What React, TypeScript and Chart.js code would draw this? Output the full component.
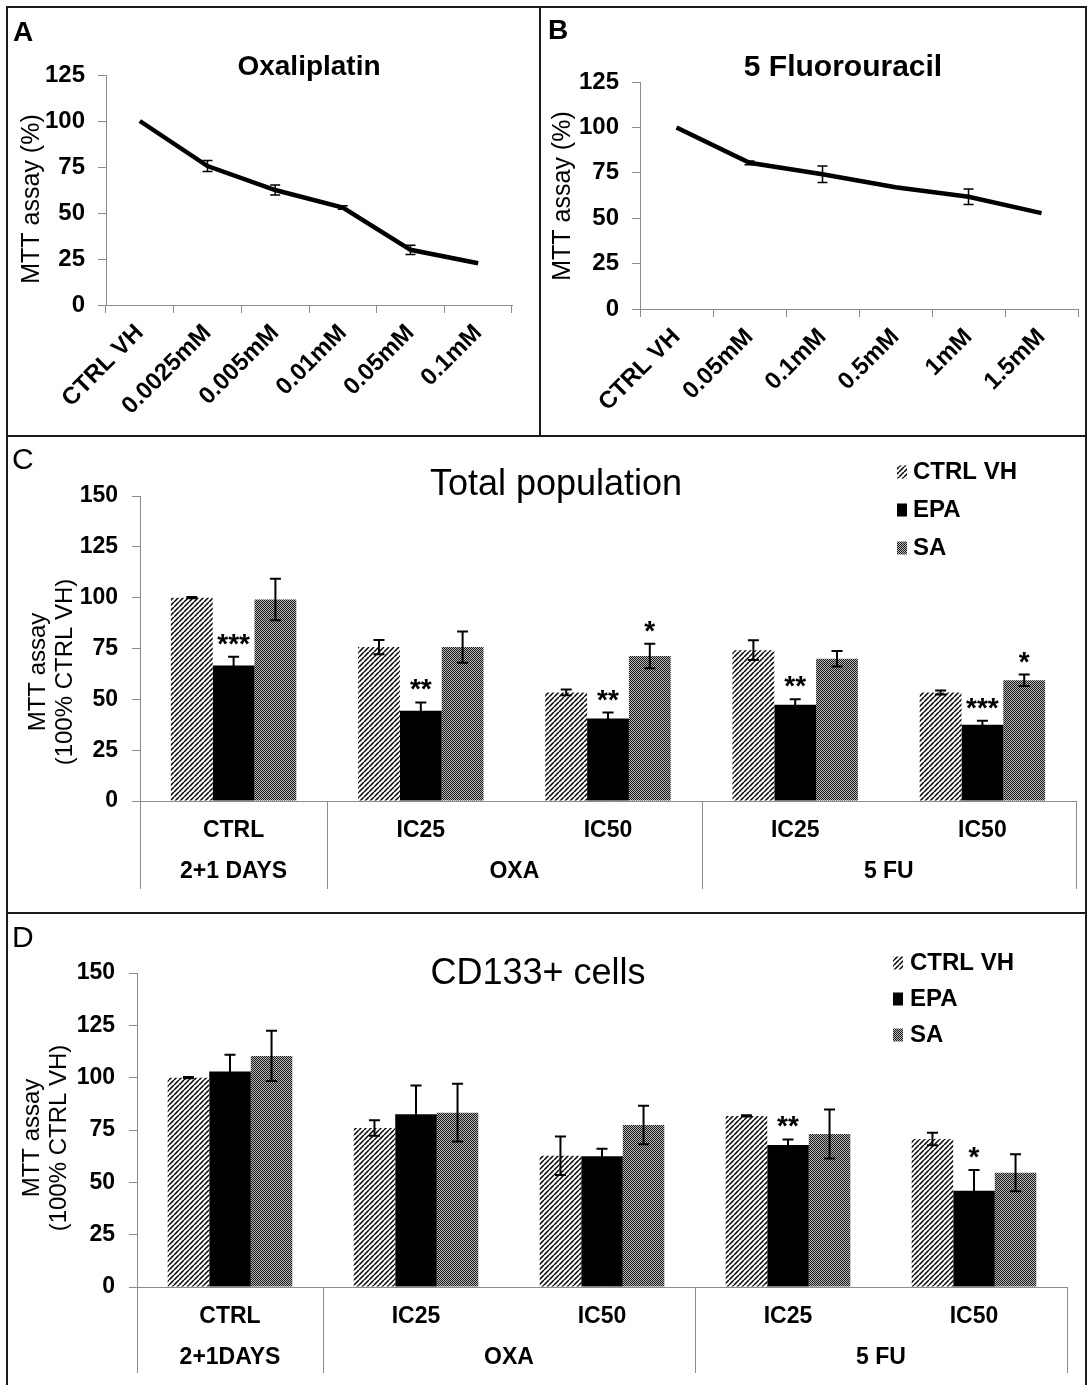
import React, { useEffect, useRef } from "react";
import { Chart, registerables } from "chart.js";

Chart.register(...registerables);

const FONT = "'Liberation Sans', Arial, Helvetica, sans-serif";

// ---------- Panel A: Oxaliplatin ----------
const oxaLabels = ["CTRL VH", "0.0025mM", "0.005mM", "0.01mM", "0.05mM", "0.1mM"];
const oxaValues = [100, 75.5, 62.5, 53, 30, 22.7];
const oxaErrors = [0, 3, 2.7, 1, 2.5, 0];

// ---------- Panel B: 5 Fluorouracil ----------
const fuLabels = ["CTRL VH", "0.05mM", "0.1mM", "0.5mM", "1mM", "1.5mM"];
const fuValues = [100, 80.5, 74.2, 67, 61.8, 52.8];
const fuErrors = [0, 1, 4.5, 0, 4.3, 0];

// ---------- Panels C / D: shared categories ----------
const categories = ["CTRL", "IC25", "IC50", "IC25", "IC50"];
const groupLabelsC = ["2+1 DAYS", "OXA", "5 FU"];
const groupLabelsD = ["2+1DAYS", "OXA", "5 FU"];
const groupSpans = [1, 2, 2];
const seriesNames = ["CTRL VH", "EPA", "SA"];

// ---------- Panel C: Total population ----------
const totalVH = [100, 75.7, 53.4, 74.2, 53.4];
const totalVHErr = [0.3, 3.5, 1.4, 4.9, 1];
const totalEPA = [66.7, 44.4, 40.6, 47.3, 37.5];
const totalEPAErr = [4.3, 4.1, 2.9, 2.8, 2];
const totalSA = [99.1, 75.7, 71.3, 70, 59.4];
const totalSAErr = [10.2, 7.7, 6, 3.8, 2.8];
const totalEPAStars = ["***", "**", "**", "**", "***"];
const totalSAStars = ["", "", "*", "", "*"];

// ---------- Panel D: CD133+ cells ----------
const cdVH = [100, 76, 62.7, 81.7, 70.7];
const cdVHErr = [0.3, 3.7, 9.2, 0.3, 3];
const cdEPA = [103, 82.5, 62.5, 67.8, 46];
const cdEPAErr = [8, 13.7, 3.5, 2.7, 9.9];
const cdSA = [110.4, 83.3, 77.4, 73.1, 54.6];
const cdSAErr = [12, 13.8, 9.2, 11.7, 8.8];
const cdEPAStars = ["", "", "", "**", "*"];
const cdSAStars = ["", "", "", "", ""];

const AXIS_GRAY = "#8c8c8c";

// ---------- patterns ----------
let patternCache: { hatch: any; dots: any } | null = null;
function getPatterns() {
  if (patternCache) return patternCache;
  const p = 5;
  const c1 = document.createElement("canvas");
  c1.width = p;
  c1.height = p;
  const g1 = c1.getContext("2d")!;
  g1.fillStyle = "#fff";
  g1.fillRect(0, 0, p, p);
  g1.strokeStyle = "#000";
  g1.lineWidth = 1.5;
  g1.beginPath();
  for (let k = -1; k <= 1; k++) {
    g1.moveTo(k * p, p);
    g1.lineTo(k * p + p, 0);
  }
  g1.stroke();
  const c2 = document.createElement("canvas");
  c2.width = 2;
  c2.height = 2;
  const g2 = c2.getContext("2d")!;
  g2.fillStyle = "#b4b4b4";
  g2.fillRect(0, 0, 2, 2);
  g2.fillStyle = "#1c1c1c";
  g2.fillRect(0, 0, 1, 1);
  g2.fillRect(1, 1, 1, 1);
  const ctx = document.createElement("canvas").getContext("2d")!;
  patternCache = {
    hatch: ctx.createPattern(c1, "repeat"),
    dots: ctx.createPattern(c2, "repeat"),
  };
  return patternCache;
}

// ---------- plugins ----------
const errorBarPlugin = {
  id: "errorBars",
  afterDatasetsDraw(chart: any, _a: any, opts: any) {
    const { ctx } = chart;
    const ys = chart.scales.y;
    const cap = opts.cap ?? 10;
    chart.data.datasets.forEach((ds: any, di: number) => {
      if (!ds.errors) return;
      const meta = chart.getDatasetMeta(di);
      ds.errors.forEach((e: number, i: number) => {
        if (!e) return;
        const el = meta.data[i];
        const v = ds.data[i];
        const x = el.x;
        const yt = ys.getPixelForValue(v + e);
        const yb = ys.getPixelForValue(v - e);
        ctx.save();
        ctx.strokeStyle = opts.color || "#000";
        ctx.lineWidth = opts.lineWidth || 1.5;
        ctx.beginPath();
        ctx.moveTo(x, yt);
        ctx.lineTo(x, yb);
        ctx.moveTo(x - cap / 2, yt);
        ctx.lineTo(x + cap / 2, yt);
        ctx.moveTo(x - cap / 2, yb);
        ctx.lineTo(x + cap / 2, yb);
        ctx.stroke();
        ctx.restore();
      });
    });
  },
};

const starsPlugin = {
  id: "stars",
  afterDatasetsDraw(chart: any, _a: any, opts: any) {
    const { ctx } = chart;
    const ys = chart.scales.y;
    chart.data.datasets.forEach((ds: any, di: number) => {
      if (!ds.stars) return;
      const meta = chart.getDatasetMeta(di);
      ds.stars.forEach((s: string, i: number) => {
        if (!s) return;
        const el = meta.data[i];
        const top = ds.data[i] + (ds.errors ? ds.errors[i] : 0);
        ctx.save();
        ctx.fillStyle = "#000";
        ctx.font = opts.font;
        ctx.textAlign = "center";
        ctx.textBaseline = "alphabetic";
        ctx.fillText(s, el.x, ys.getPixelForValue(top) - (opts.gap ?? 4));
        ctx.restore();
      });
    });
  },
};

const sideTitlePlugin = {
  id: "sideTitle",
  afterDraw(chart: any, _a: any, opts: any) {
    if (!opts || !opts.lines) return;
    const { ctx } = chart;
    ctx.save();
    ctx.translate(opts.x, opts.y);
    ctx.rotate(-Math.PI / 2);
    ctx.textAlign = "center";
    ctx.textBaseline = "middle";
    ctx.font = opts.font;
    ctx.fillStyle = "#000";
    opts.lines.forEach((l: string, i: number) => ctx.fillText(l, 0, i * opts.lineHeight));
    ctx.restore();
  },
};

const fixedTitlePlugin = {
  id: "fixedTitle",
  afterDraw(chart: any, _a: any, opts: any) {
    if (!opts || !opts.text) return;
    const { ctx } = chart;
    ctx.save();
    ctx.font = opts.font;
    ctx.fillStyle = "#000";
    ctx.textAlign = "center";
    ctx.textBaseline = "middle";
    ctx.fillText(opts.text, opts.x, opts.y);
    ctx.restore();
  },
};

const groupAxisPlugin = {
  id: "groupAxis",
  afterDraw(chart: any, _a: any, opts: any) {
    if (!opts || !opts.labels) return;
    const { ctx } = chart;
    const xs = chart.scales.x;
    const n = chart.data.labels.length;
    const w = (xs.right - xs.left) / n;
    ctx.save();
    ctx.strokeStyle = opts.lineColor;
    ctx.lineWidth = 1;
    const bounds = [0];
    let acc = 0;
    opts.spans.forEach((s: number) => {
      acc += s;
      bounds.push(acc);
    });
    ctx.beginPath();
    bounds.forEach((b) => {
      const px = Math.round(xs.left + b * w) + 0.5;
      ctx.moveTo(px, xs.top);
      ctx.lineTo(px, xs.top + opts.lineLength);
    });
    ctx.stroke();
    ctx.fillStyle = "#000";
    ctx.font = opts.font;
    ctx.textAlign = "center";
    ctx.textBaseline = "middle";
    let start = 0;
    opts.labels.forEach((lab: string, gi: number) => {
      const s = opts.spans[gi];
      const cx = (xs.getPixelForValue(start) + xs.getPixelForValue(start + s - 1)) / 2;
      ctx.fillText(lab, cx, xs.top + opts.labelOffset);
      start += s;
    });
    ctx.restore();
  },
};

const patternLegendPlugin = {
  id: "patternLegend",
  afterDraw(chart: any, _a: any, opts: any) {
    if (!opts || opts.y === undefined) return;
    const { ctx } = chart;
    ctx.save();
    chart.data.datasets.forEach((ds: any, i: number) => {
      const y = opts.y + i * opts.spacing;
      ctx.fillStyle = ds.backgroundColor;
      ctx.fillRect(opts.markerX, y - opts.markerH / 2, opts.markerW, opts.markerH);
      ctx.fillStyle = "#000";
      ctx.font = opts.font;
      ctx.textAlign = "left";
      ctx.textBaseline = "middle";
      ctx.fillText(ds.label, opts.textX, y);
    });
    ctx.restore();
  },
};

const allPlugins = [errorBarPlugin, starsPlugin, sideTitlePlugin, fixedTitlePlugin, groupAxisPlugin, patternLegendPlugin];

// ---------- configs ----------
function lineConfig(p: {
  labels: string[];
  values: number[];
  errors: number[];
  title: string;
  titleSize: number;
  builtinTitle: boolean;
  titlePad: { top: number; bottom: number };
  fixedTitlePos: { x: number; y: number };
  padTop: number;
  padRight: number;
  yWidth: number;
  xHeight: number;
  sideX: number;
  sideY: number;
}) {
  const titleFont = `bold ${p.titleSize}px ${FONT}`;
  return {
    type: "line",
    data: {
      labels: p.labels,
      datasets: [
        {
          label: p.title,
          data: p.values,
          errors: p.errors,
          borderColor: "#000",
          borderWidth: 4.5,
          pointRadius: 0,
          tension: 0,
          fill: false,
        },
      ],
    },
    options: {
      responsive: false,
      animation: false,
      layout: { padding: { left: 0, right: p.padRight, top: p.padTop, bottom: 0 } },
      plugins: {
        legend: { display: false },
        tooltip: { enabled: false },
        title: {
          display: p.builtinTitle,
          text: p.title,
          fullSize: false,
          color: "#000",
          font: { family: FONT, size: p.titleSize, weight: "bold", lineHeight: 1 },
          padding: p.titlePad,
        },
        fixedTitle: p.builtinTitle ? {} : { text: p.title, x: p.fixedTitlePos.x, y: p.fixedTitlePos.y, font: titleFont },
        errorBars: { color: "#000", lineWidth: 1.5, cap: 10 },
        sideTitle: { lines: ["MTT assay (%)"], x: p.sideX, y: p.sideY, font: `25px ${FONT}`, lineHeight: 27 },
      },
      scales: {
        x: {
          type: "category",
          offset: true,
          grid: { offset: true, drawOnChartArea: false, drawTicks: true, tickLength: 8, color: AXIS_GRAY },
          border: { color: AXIS_GRAY, width: 1 },
          ticks: {
            autoSkip: false,
            maxRotation: 45,
            minRotation: 45,
            padding: 6,
            color: "#000",
            font: { family: FONT, size: 24, weight: "bold" },
          },
          afterFit: (s: any) => {
            s.height = p.xHeight;
            s.paddingLeft = 0;
            s.paddingRight = 0;
          },
        },
        y: {
          min: 0,
          max: 125,
          ticks: { stepSize: 25, padding: 13, color: "#000", font: { family: FONT, size: 24, weight: "bold" } },
          grid: { drawOnChartArea: false, drawTicks: true, tickLength: 8, color: AXIS_GRAY },
          border: { color: AXIS_GRAY, width: 1 },
          afterFit: (s: any) => {
            s.width = p.yWidth;
            s.paddingTop = 0;
            s.paddingBottom = 0;
          },
        },
      },
    },
    plugins: allPlugins,
  };
}

function barConfig(p: {
  title: string;
  vh: number[];
  vhErr: number[];
  epa: number[];
  epaErr: number[];
  sa: number[];
  saErr: number[];
  epaStars: string[];
  saStars: string[];
  groupLabels: string[];
  titlePad: { top: number; bottom: number };
  padLeft: number;
  padRight: number;
  yWidth: number;
  xHeight: number;
  sepLength: number;
  sideX: number;
  sideY: number;
  legendY: number;
  legendSpacing: number;
  legendMarkerX: number;
  legendTextX: number;
}) {
  const pat = getPatterns();
  return {
    type: "bar",
    data: {
      labels: categories,
      datasets: [
        { label: seriesNames[0], data: p.vh, errors: p.vhErr, backgroundColor: pat.hatch, borderWidth: 0 },
        { label: seriesNames[1], data: p.epa, errors: p.epaErr, stars: p.epaStars, backgroundColor: "#000", borderWidth: 0 },
        { label: seriesNames[2], data: p.sa, errors: p.saErr, stars: p.saStars, backgroundColor: pat.dots, borderWidth: 0 },
      ],
    },
    options: {
      responsive: false,
      animation: false,
      datasets: { bar: { categoryPercentage: 0.67, barPercentage: 1 } },
      layout: { padding: { left: p.padLeft, right: p.padRight, top: 0, bottom: 0 } },
      plugins: {
        legend: { display: false },
        tooltip: { enabled: false },
        title: {
          display: true,
          text: p.title,
          fullSize: true,
          color: "#000",
          font: { family: FONT, size: 36, weight: "normal", lineHeight: 1 },
          padding: p.titlePad,
        },
        errorBars: { color: "#000", lineWidth: 2, cap: 11 },
        stars: { font: `bold 28px ${FONT}`, gap: 4 },
        sideTitle: {
          lines: ["MTT assay", "(100% CTRL VH)"],
          x: p.sideX,
          y: p.sideY,
          font: `24px ${FONT}`,
          lineHeight: 27,
        },
        groupAxis: {
          labels: p.groupLabels,
          spans: groupSpans,
          lineLength: p.sepLength,
          labelOffset: 71,
          lineColor: AXIS_GRAY,
          font: `bold 23px ${FONT}`,
        },
        patternLegend: {
          y: p.legendY,
          spacing: p.legendSpacing,
          markerX: p.legendMarkerX,
          markerW: 10,
          markerH: 13,
          textX: p.legendTextX,
          font: `bold 24px ${FONT}`,
        },
      },
      scales: {
        x: {
          type: "category",
          grid: { display: false, drawTicks: false },
          border: { display: true, color: AXIS_GRAY, width: 1 },
          ticks: {
            autoSkip: false,
            maxRotation: 0,
            minRotation: 0,
            padding: 16,
            color: "#000",
            font: { family: FONT, size: 23, weight: "bold" },
          },
          afterFit: (s: any) => {
            s.height = p.xHeight;
            s.paddingLeft = 0;
            s.paddingRight = 0;
          },
        },
        y: {
          min: 0,
          max: 150,
          ticks: { stepSize: 25, padding: 14, color: "#000", font: { family: FONT, size: 23, weight: "bold" } },
          grid: { drawOnChartArea: false, drawTicks: true, tickLength: 8, color: AXIS_GRAY },
          border: { color: AXIS_GRAY, width: 1 },
          afterFit: (s: any) => {
            s.width = p.yWidth;
            s.paddingTop = 0;
            s.paddingBottom = 0;
          },
        },
      },
    },
    plugins: allPlugins,
  };
}

function ChartBox(props: { make: () => any; left: number; top: number; width: number; height: number }) {
  const ref = useRef<HTMLCanvasElement>(null);
  useEffect(() => {
    const chart = new Chart(ref.current as HTMLCanvasElement, props.make());
    return () => chart.destroy();
  }, []);
  return (
    <canvas
      ref={ref}
      width={props.width}
      height={props.height}
      style={{ position: "absolute", left: props.left, top: props.top, width: props.width, height: props.height }}
    />
  );
}

function Line(props: { left: number; top: number; width: number; height: number }) {
  return (
    <div
      style={{ position: "absolute", left: props.left, top: props.top, width: props.width, height: props.height, background: "#1a1a1a" }}
    />
  );
}

function Letter(props: { text: string; left: number; top: number; bold: boolean; size: number }) {
  return (
    <div
      style={{
        position: "absolute",
        left: props.left,
        top: props.top,
        fontFamily: FONT,
        fontSize: props.size,
        lineHeight: `${props.size}px`,
        fontWeight: props.bold ? "bold" : "normal",
        color: "#000",
      }}
    >
      {props.text}
    </div>
  );
}

export default function App() {
  const makeA = () =>
    lineConfig({
      labels: oxaLabels,
      values: oxaValues,
      errors: oxaErrors,
      title: "Oxaliplatin",
      titleSize: 28,
      builtinTitle: true,
      titlePad: { top: 44, bottom: -6 },
      fixedTitlePos: { x: 0, y: 0 },
      padTop: 0,
      padRight: 27,
      yWidth: 97,
      xHeight: 130,
      sideX: 23,
      sideY: 190,
    });
  const makeB = () =>
    lineConfig({
      labels: fuLabels,
      values: fuValues,
      errors: fuErrors,
      title: "5 Fluorouracil",
      titleSize: 30,
      builtinTitle: false,
      titlePad: { top: 0, bottom: 0 },
      fixedTitlePos: { x: 302, y: 59 },
      padTop: 73,
      padRight: 7,
      yWidth: 99,
      xHeight: 126,
      sideX: 22,
      sideY: 187,
    });
  const makeC = () =>
    barConfig({
      title: "Total population",
      vh: totalVH,
      vhErr: totalVHErr,
      epa: totalEPA,
      epaErr: totalEPAErr,
      sa: totalSA,
      saErr: totalSAErr,
      epaStars: totalEPAStars,
      saStars: totalSAStars,
      groupLabels: groupLabelsC,
      titlePad: { top: 30, bottom: -7 },
      padLeft: 27,
      padRight: 9,
      yWidth: 104,
      xHeight: 111,
      sepLength: 88,
      sideX: 29,
      sideY: 235,
      legendY: 35,
      legendSpacing: 38,
      legendMarkerX: 888,
      legendTextX: 904,
    });
  const makeD = () =>
    barConfig({
      title: "CD133+ cells",
      vh: cdVH,
      vhErr: cdVHErr,
      epa: cdEPA,
      epaErr: cdEPAErr,
      sa: cdSA,
      saErr: cdSAErr,
      epaStars: cdEPAStars,
      saStars: cdSAStars,
      groupLabels: groupLabelsD,
      titlePad: { top: 41, bottom: -19 },
      padLeft: 0,
      padRight: 18,
      yWidth: 128,
      xHeight: 98,
      sepLength: 86,
      sideX: 23,
      sideY: 223,
      legendY: 48,
      legendSpacing: 36,
      legendMarkerX: 884,
      legendTextX: 901,
    });

  return (
    <div style={{ position: "absolute", left: 0, top: 0, width: 1087, height: 1385, background: "#fff", overflow: "hidden" }}>
      <ChartBox make={makeA} left={9} top={9} width={530} height={426} />
      <ChartBox make={makeB} left={541} top={9} width={544} height={426} />
      <ChartBox make={makeC} left={9} top={437} width={1076} height={475} />
      <ChartBox make={makeD} left={9} top={915} width={1076} height={470} />
      <Line left={6} top={6} width={1081} height={2} />
      <Line left={6} top={6} width={2} height={1379} />
      <Line left={1085} top={6} width={2} height={1379} />
      <Line left={539} top={6} width={2} height={430} />
      <Line left={6} top={435} width={1081} height={2} />
      <Line left={6} top={912} width={1081} height={2} />
      <Letter text="A" left={13} top={18} bold={true} size={28} />
      <Letter text="B" left={548} top={16} bold={true} size={28} />
      <Letter text="C" left={12} top={444} bold={false} size={30} />
      <Letter text="D" left={12} top={922} bold={false} size={30} />
    </div>
  );
}
